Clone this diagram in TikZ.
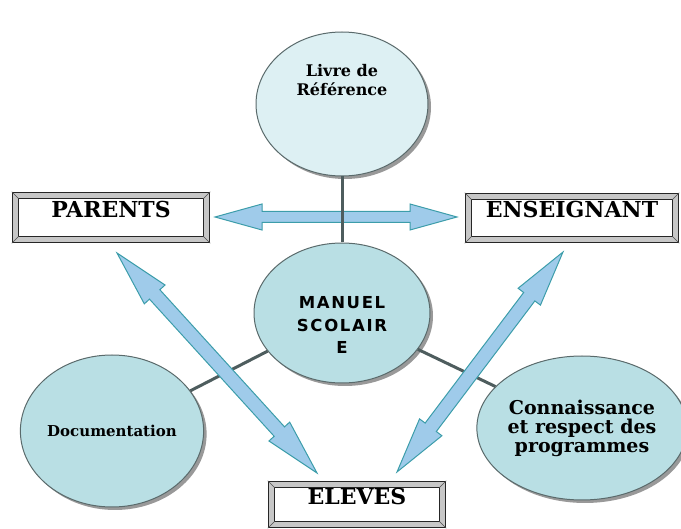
\documentclass[tikz,border=0pt]{standalone}
\usepackage{fontspec}
\setmainfont{DejaVu Serif}
\newfontfamily\blockfont{DejaVu Sans}[LetterSpace=10]
\usetikzlibrary{shapes.geometric,shadows,calc}

\definecolor{paleblue}{HTML}{DDF0F3}
\definecolor{bubblefill}{HTML}{B9DFE4}
\definecolor{rim}{HTML}{5A6A6B}
\definecolor{linkgray}{HTML}{4E5D5E}
\definecolor{arrowfill}{HTML}{9FCBEA}
\definecolor{arrowrim}{HTML}{3C9DAA}

% block arrow with a head at both ends
% #1 start, #2 end, #3 head length, #4 head half width, #5 shaft half width
\newcommand{\fatarrow}[5]{%
  \draw[fatarrow] (#1)
    -- ($(#1)!#3!(#2)!#4!90:(#2)$)
    -- ($(#1)!#3!(#2)!#5!90:(#2)$)
    -- ($(#2)!#3!(#1)!#5!-90:(#1)$)
    -- ($(#2)!#3!(#1)!#4!-90:(#1)$)
    -- (#2)
    -- ($(#2)!#3!(#1)!#4!90:(#1)$)
    -- ($(#2)!#3!(#1)!#5!90:(#1)$)
    -- ($(#1)!#3!(#2)!#5!-90:(#2)$)
    -- ($(#1)!#3!(#2)!#4!-90:(#2)$)
    -- cycle;}

\begin{document}
\begin{tikzpicture}[x=1pt,y=-1pt,
    bubble/.style={ellipse, draw=rim, line width=1pt, fill=bubblefill, align=center,
      inner sep=0pt, drop shadow={shadow xshift=3pt, shadow yshift=-3pt, opacity=0.4, fill=black}},
    framebox/.style={draw=black!85, line width=0.6pt, double=black!22, double distance=5.8pt,
      fill=white, inner sep=0pt, font=\bfseries\fontsize{22}{24}\selectfont,
      text height=16pt, text depth=16pt},
    link/.style={draw=linkgray, line width=3pt},
    fatarrow/.style={draw=arrowrim, line width=1pt, fill=arrowfill, line join=miter}]

    \useasboundingbox (0,0) rectangle (681,529);

    % the four bubbles
    \node[bubble, fill=paleblue, minimum width=172pt, minimum height=144pt] (livre) at (342,104) {};
    \node[align=center, font=\bfseries\fontsize{16}{19}\selectfont] (livre-text) at (342,80) {Livre de\\Référence};

    \node[bubble, minimum width=176pt, minimum height=140pt] (manuel) at (342,313) {};
    \node[align=center, font=\blockfont\bfseries\fontsize{16.5}{22.5}\selectfont] (manuel-text) at (342,325) {MANUEL\\SCOLAIR\\E};

    \node[bubble, minimum width=180pt, minimum height=152pt,
      font=\bfseries\fontsize{15}{18}\selectfont] (doc) at (112,431) {Documentation};
    \node[bubble, minimum width=190pt, minimum height=144pt,
      font=\bfseries\fontsize{19}{19}\selectfont] (prog) at (582,428) {Connaissance\\et respect des\\programmes};

    % the three framed labels
    \node[framebox, minimum width=191pt, minimum height=44pt] (parents) at (111,217.5) {PARENTS};
    \node[framebox, minimum width=207pt, minimum height=43pt] (enseignant) at (572,218) {ENSEIGNANT};
    \node[framebox, minimum width=171pt, minimum height=40pt] (eleves) at (357,504.5) {ELEVES};
    \foreach \b in {parents,enseignant,eleves}
      \foreach \c/\sx/\sy in {north west/-1/1, north east/1/1, south west/-1/-1, south east/1/-1}
        \draw[black!70, line width=0.5pt] ([shift={(\sx*3.5pt,\sy*3.5pt)}]\b.\c) -- ([shift={(\sx*-3.5pt,\sy*-3.5pt)}]\b.\c);

    \draw[link] (manuel) -- (doc);
    \draw[link] (manuel) -- (prog);

    \coordinate (h-left) at (215,217);
    \coordinate (h-right) at (457,217);
    \coordinate (l-top) at (117,253);
    \coordinate (l-bot) at (317,473);
    \coordinate (r-top) at (563,252);
    \coordinate (r-bot) at (397,472);

    \fatarrow{l-top}{l-bot}{56pt}{14pt}{7pt}
    \fatarrow{r-top}{r-bot}{56pt}{14pt}{7pt}
    \fatarrow{h-left}{h-right}{47pt}{13pt}{5.5pt}

    \draw[link] (livre) -- (manuel);

\end{tikzpicture}
\end{document}
